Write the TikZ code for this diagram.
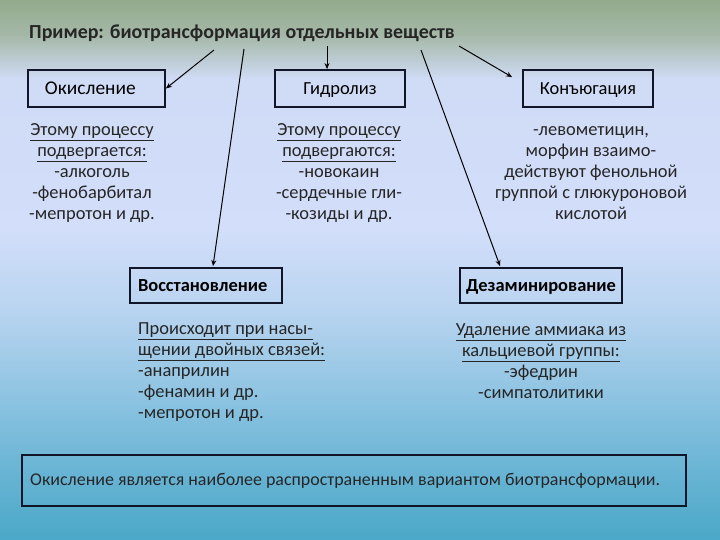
\documentclass[tikz,border=0pt]{standalone}
\usepackage{fontspec}
\setmainfont{Carlito}
\usetikzlibrary{calc,arrows.meta}
\definecolor{g0}{RGB}{147,171,140}
\definecolor{g1}{RGB}{165,184,168}
\definecolor{g2}{RGB}{208,220,246}
\definecolor{g3}{RGB}{210,222,250}
\definecolor{g4}{RGB}{185,212,240}
\definecolor{g5}{RGB}{140,195,225}
\definecolor{g6}{RGB}{105,180,212}
\definecolor{g7}{RGB}{75,168,200}
\definecolor{boxline}{RGB}{16,22,40}
\newcommand{\bodyfont}{\fontsize{18.5}{21}\selectfont}
\tikzset{
  boxnode/.style={draw=boxline, line width=1.8bp, inner sep=0pt, minimum height=37bp, text height=16bp, text depth=4bp, font=\bodyfont},
  txt/.style={inner sep=0pt, font=\bodyfont, align=center, text=black!85},
  arr/.style={draw=black, line width=1bp, -{Stealth[length=6bp,width=5bp]}}
}
\begin{document}
\begin{tikzpicture}[x=1bp,y=-1bp]
\useasboundingbox (0,0) rectangle (720,540);
% background
\shade[top color=g0,bottom color=g1] (0,0) rectangle (720,35);
\shade[top color=g1,bottom color=g2] (0,35) rectangle (720,80);
\shade[top color=g2,bottom color=g3] (0,80) rectangle (720,230);
\shade[top color=g3,bottom color=g4] (0,230) rectangle (720,310);
\shade[top color=g4,bottom color=g5] (0,310) rectangle (720,400);
\shade[top color=g5,bottom color=g6] (0,400) rectangle (720,470);
\shade[top color=g6,bottom color=g7] (0,470) rectangle (720,540);

\node[txt, anchor=west, font=\fontsize{20}{22}\selectfont\bfseries] (title) at (29,33) {Пример: биотрансформация отдельных веществ};

\node[boxnode, minimum width=137bp, text width=103bp, inner xsep=17bp, align=left, font=\fontsize{19.5}{21}\selectfont] (ok) at (96.5,88.5) {Окисление};
\node[boxnode, minimum width=130bp] (gid) at (340,88.5) {Гидролиз};
\node[boxnode, minimum width=130bp] (kon) at (588,88.5) {Конъюгация};
\node[boxnode, minimum width=152bp, minimum height=35bp, text width=136bp, inner xsep=8bp, align=left, font=\bodyfont\bfseries] (vos) at (206,285.5) {Восстановление};
\node[boxnode, minimum width=162bp, minimum height=35bp, font=\bodyfont\bfseries] (dez) at (541,285.5) {Дезаминирование};

\node[txt] (t1) at (92,173) {\underline{Этому процессу}\\ \underline{подвергается:}\\ -алкоголь\\ -фенобарбитал\\ -мепротон и др.};
\node[txt] (t2) at (339,173) {\underline{Этому процессу}\\ \underline{подвергаются:}\\ -новокаин\\ -сердечные гли-\\ -козиды и др.};
\node[txt] (t3) at (591,173) {-левометицин,\\ морфин взаимо-\\ действуют фенольной\\ группой с глюкуроновой\\ кислотой};
\node[txt, align=left, anchor=west] (t4) at (138,372) {\underline{Происходит при насы-}\\ \underline{щении двойных связей:}\\ -анаприлин\\ -фенамин и др.\\ -мепротон и др.};
\node[txt] (t5) at (541,361.5) {\underline{Удаление аммиака из}\\ \underline{кальциевой группы:}\\ -эфедрин\\ -симпатолитики};

\node[boxnode, minimum width=664bp, minimum height=51bp] (bot) at (354,480.5) {};
\node[txt, anchor=west, font=\fontsize{18}{21}\selectfont] (bottxt) at (30,481) {Окисление является наиболее распространенным вариантом биотрансформации.};

% arrows
\coordinate (s1) at (214,50);
\coordinate (s2) at (244,49);
\coordinate (s3) at (327,46);
\coordinate (s4) at (421,50);
\coordinate (s5) at (459,46);
\draw[arr] (s1) -- (ok.east);
\draw[arr] (s2) -- ($(vos.north)+(7,-1)$);
\draw[arr] (s3) -- (s3 |- gid.north);
\draw[arr] (s4) -- ($(dez.north)+(-41,-1)$);
\draw[arr] (s5) -- ($(kon.north west)+(-10,8)$);
\end{tikzpicture}
\end{document}
